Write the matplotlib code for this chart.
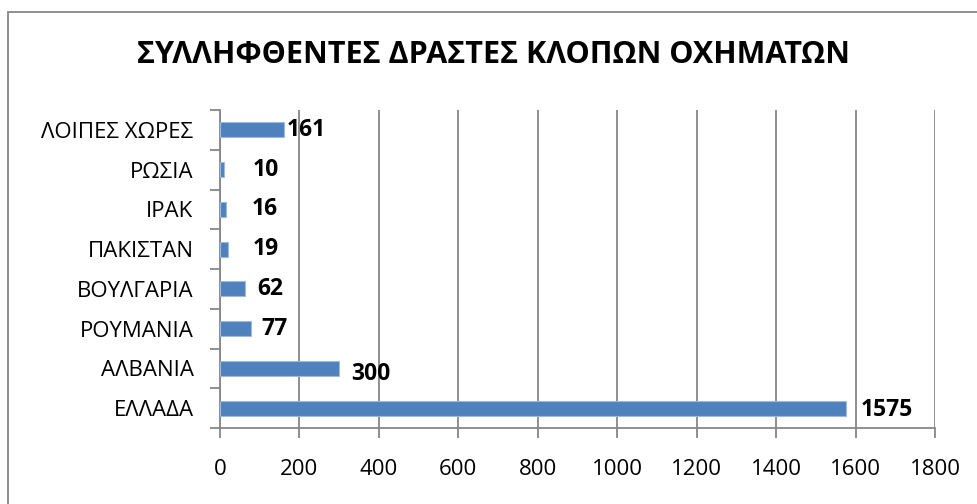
import matplotlib.pyplot as plt
from matplotlib.patches import Rectangle

# δεδομένα
countries = ['ΕΛΛΑΔΑ', 'ΑΛΒΑΝΙΑ', 'ΡΟΥΜΑΝΙΑ', 'ΒΟΥΛΓΑΡΙΑ', 'ΠΑΚΙΣΤΑΝ', 'ΙΡΑΚ', 'ΡΩΣΙΑ', 'ΛΟΙΠΕΣ ΧΩΡΕΣ']
values = [1575, 300, 77, 62, 19, 16, 10, 161]
title = 'ΣΥΛΛΗΦΘΕΝΤΕΣ ΔΡΑΣΤΕΣ ΚΛΟΠΩΝ ΟΧΗΜΑΤΩΝ'
xticks = [0, 200, 400, 600, 800, 1000, 1200, 1400, 1600, 1800]

# μετατόπιση ετικετών (σε points), όπως στο πρωτότυπο
label_dx = [11, 9, 8, 9, 18, 18, 21, 2]
label_dy = [-1, -4, 0, 0, 0, 0, 0, 0]

plt.rcParams['font.family'] = ['Open Sans', 'DejaVu Sans']
bar_col = '#4F81BD'
grid_col = '#868686'

fig = plt.figure(figsize=(9.77, 5.04), dpi=100)
ax = fig.add_axes([220 / 977, 1 - 428 / 504, (935 - 220) / 977, (428 - 110) / 504])

y = range(len(countries))
ax.barh(y, values, height=0.38, color=bar_col, edgecolor='#9DB9DF', linewidth=0.8, zorder=3)

for i, v in enumerate(values):
    ax.annotate(str(v), (v, i), xytext=(label_dx[i], label_dy[i]), textcoords='offset points',
                ha='left', va='center', fontsize=16.5, fontweight='bold', zorder=4)

ax.set_xlim(0, 1800)
ax.set_ylim(-0.5, len(countries) - 0.5)
ax.set_xticks(xticks)
ax.set_xticklabels([str(t) for t in xticks], fontsize=16)
ax.set_yticks(list(y))
ax.set_yticklabels(countries, fontsize=16)
ax.set_yticks([i - 0.5 for i in range(len(countries) + 1)], minor=True)

ax.xaxis.grid(True, color=grid_col, linewidth=1.3, zorder=0)
ax.tick_params(axis='x', length=7, width=1.3, color=grid_col, pad=15)
ax.tick_params(axis='y', which='major', length=0, pad=19)
ax.tick_params(axis='y', which='minor', length=7, width=1.3, color=grid_col)

for s in ['top', 'right']:
    ax.spines[s].set_visible(False)
for s in ['left', 'bottom']:
    ax.spines[s].set_color(grid_col)
    ax.spines[s].set_linewidth(1.3)

fig.text(494 / 977, 1 - 55 / 504, title, ha='center', va='center', fontsize=22, fontweight='bold')

# περίγραμμα γραφήματος
fig.patches.append(Rectangle((8 / 977, -0.1), 1.2, 1 - 12 / 504 + 0.1, transform=fig.transFigure,
                             fill=False, edgecolor='#868686', linewidth=1.3))

fig.savefig('out.png', dpi=100)
